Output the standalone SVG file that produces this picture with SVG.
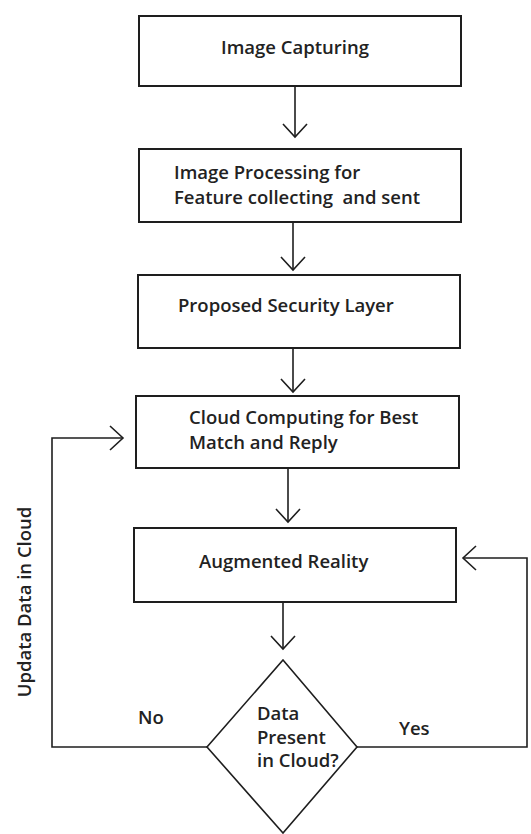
<svg xmlns="http://www.w3.org/2000/svg" width="531" height="834" viewBox="0 0 531 834">
<style>
.box{fill:#fff;stroke:#1e1e1e;stroke-width:2}
.ln{fill:none;stroke:#1e1e1e;stroke-width:1.6}
.t{font-family:"Open Sans","Liberation Sans",sans-serif;font-weight:600;font-size:18.5px;fill:#222}
</style>
<defs>
<marker id="arr" markerUnits="userSpaceOnUse" markerWidth="30" markerHeight="30" viewBox="-15 -15 30 30" refX="0" refY="0" orient="auto" overflow="visible">
<path d="M-13,-12 L0,0 L-13,12" fill="none" stroke="#1e1e1e" stroke-width="1.6"/>
</marker>
</defs>
<rect width="531" height="834" fill="#fff"/>
<g id="connectors">
<line class="ln" x1="295" y1="87" x2="295" y2="137" marker-end="url(#arr)"/>
<line class="ln" x1="293" y1="222" x2="293" y2="270" marker-end="url(#arr)"/>
<line class="ln" x1="293" y1="348" x2="293" y2="392" marker-end="url(#arr)"/>
<line class="ln" x1="288" y1="468" x2="288" y2="522" marker-end="url(#arr)"/>
<line class="ln" x1="283" y1="602" x2="283" y2="649" marker-end="url(#arr)"/>
<polyline class="ln" points="207,747 52,747 52,438 123,438" marker-end="url(#arr)"/>
<polyline class="ln" points="357,747 527,747 527,558 463,558" marker-end="url(#arr)"/>
<text class="t" x="138" y="724">No</text>
<text class="t" x="399" y="735">Yes</text>
<text class="t" text-anchor="middle" transform="translate(31,602) rotate(-90)">Updata Data in Cloud</text>
</g>
<g id="n1">
<rect class="box" x="139" y="16" width="322" height="70"/>
<text class="t" x="221" y="54">Image Capturing</text>
</g>
<g id="n2">
<rect class="box" x="139" y="149" width="322" height="73"/>
<text class="t" x="174" y="179">Image Processing for</text>
<text class="t" x="174" y="204" xml:space="preserve">Feature collecting  and sent</text>
</g>
<g id="n3">
<rect class="box" x="138" y="275" width="322" height="73"/>
<text class="t" x="178" y="312">Proposed Security Layer</text>
</g>
<g id="n4">
<rect class="box" x="136" y="396" width="323" height="72"/>
<text class="t" x="189" y="424">Cloud Computing for Best</text>
<text class="t" x="189" y="449">Match and Reply</text>
</g>
<g id="n5">
<rect class="box" x="134" y="528" width="322" height="74"/>
<text class="t" x="199" y="568">Augmented Reality</text>
</g>
<g id="n6">
<polygon class="box" points="283,660 357,747 283,833 207,747" style="stroke-width:1.6"/>
<text class="t" x="257" y="720">Data</text>
<text class="t" x="257" y="744">Present</text>
<text class="t" x="257" y="767">in Cloud?</text>
</g>
</svg>
